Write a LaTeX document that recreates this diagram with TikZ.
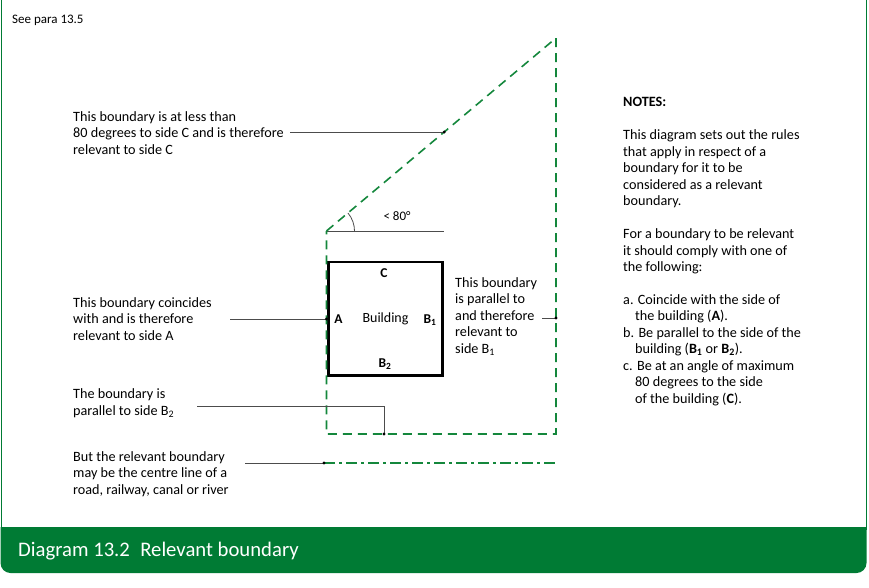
\documentclass[tikz,border=0pt]{standalone}
\usepackage{fontspec}
\setmainfont{Carlito}
\usetikzlibrary{positioning}

\definecolor{gruen}{RGB}{0,123,52}
\definecolor{grenze}{RGB}{20,135,60}

\tikzset{
  txt/.style={anchor=west, align=left, inner sep=0pt, font=\fontsize{14.2}{16.5}\selectfont},
  grenzlinie/.style={grenze, line width=1.6pt, dash pattern=on 9pt off 6pt},
  mittellinie/.style={grenze, line width=1.6pt, dash pattern=on 11pt off 4pt on 3pt off 4pt},
  leader/.style={black!70, line width=0.8pt},
  lbl/.style={inner sep=0pt, font=\fontsize{13.5}{15}\selectfont\bfseries},
}
\newcommand{\Bsub}[1]{\textbf{B}\textsubscript{\textbf{#1}}}

\begin{document}
\begin{tikzpicture}[x=1pt,y=-1pt]
  \useasboundingbox (0,0) rectangle (869,588);

  % Rahmen
  \draw[gruen, line width=1pt] (1,0) -- (1,530);
  \draw[gruen, line width=1pt] (866,0) -- (866,530);
  \begin{scope}
    \clip (0,527) rectangle (869,588);
    \fill[gruen, rounded corners=10pt] (0.5,480) rectangle (866.5,573);
  \end{scope}
  \node[anchor=west, inner sep=0pt, text=white, font=\fontsize{20.7}{21}\selectfont] (titel) at (18,551) {Diagram 13.2\hspace{0.5em}Relevant boundary};

  \node[anchor=west, inner sep=0pt, font=\fontsize{13}{14}\selectfont] (para) at (12,20) {See para 13.5};

  % Gebaeude
  \node[draw, line width=2.5pt, minimum width=114pt, minimum height=113.5pt, inner sep=0pt,
        font=\fontsize{14}{15}\selectfont] (haus) at (385.5,318.75) {Building};
  \node[lbl] (C) at (384,273) {C};
  \node[lbl] (A) at (338.5,319) {A};
  \node[lbl] (B1) at (430,320) {\Bsub{1}};
  \node[lbl] (B2) at (385,364) {\Bsub{2}};

  % Grenze
  \coordinate (g1) at (326.5,231);
  \coordinate (g2) at (556,38);
  \coordinate (g3) at (556,434);
  \coordinate (g4) at (326.5,434);
  \coordinate (ref) at (444,231);
  \draw[leader] (g1) -- (ref);
  \draw[leader] (g1) ++(28pt,0pt) arc[start angle=0, end angle=40, radius=28pt];
  \node[inner sep=0pt, font=\fontsize{13}{14}\selectfont] (winkel) at (397,216) {< 80°};
  \draw[grenzlinie] (g1) -- (g2) -- (g3) -- (g4) -- cycle;

  % Texte links
  \node[txt] (tC) at (73,133) {This boundary is at less than\\80 degrees to side C and is therefore\\relevant to side C};
  \node[txt] (tA) at (73,319) {This boundary coincides\\with and is therefore\\relevant to side A};
  \node[txt] (tB2) at (73,403) {The boundary is\\parallel to side B\textsubscript{2}};
  \node[txt] (tS) at (73,474) {But the relevant boundary\\may be the centre line of a\\road, railway, canal or river};
  \node[txt] (tB1) at (455,316.5) {This boundary\\is parallel to\\and therefore\\relevant to\\side B\textsubscript{1}};

  % Hinweislinien
  \coordinate (lC) at (290,132);
  \coordinate (pC) at (444.2,132);
  \coordinate (lA) at (230,319);
  \coordinate (pA) at (326.5,319);
  \coordinate (lB1) at (542,318);
  \coordinate (pB1) at (556,318);
  \coordinate (lB2) at (197,406);
  \coordinate (pB2) at (384,434);
  \coordinate (lS) at (245,463);
  \coordinate (pS) at (324,463);
  \coordinate (eS) at (558,463);
  \draw[leader] (lC) -- (pC);
  \draw[leader] (lA) -- (pA);
  \draw[leader] (lB1) -- (pB1);
  \draw[leader] (lB2) -| (pB2);
  \draw[leader] (lS) -- (pS);
  \draw[mittellinie] (pS) -- (eS);
  \foreach \p in {pC,pA,pB1,pB2,pS}
    \fill (\p) circle[radius=1.7pt];

  % Notes
  \node[txt, anchor=north west] (notes) at (623,96.5) {%
    \textbf{NOTES:}\\[17pt]
    This diagram sets out the rules\\
    that apply in respect of a\\
    boundary for it to be\\
    considered as a relevant\\
    boundary.\\[16.5pt]
    For a boundary to be relevant\\
    it should comply with one of\\
    the following:\\[16pt]
    a. Coincide with the side of\\
    \hspace*{12pt}the building (\textbf{A}).\\
    b. Be parallel to the side of the\\
    \hspace*{12pt}building (\Bsub{1} or \Bsub{2}).\\
    c. Be at an angle of maximum\\
    \hspace*{12pt}80 degrees to the side\\
    \hspace*{12pt}of the building (\textbf{C}).};
\end{tikzpicture}
\end{document}
